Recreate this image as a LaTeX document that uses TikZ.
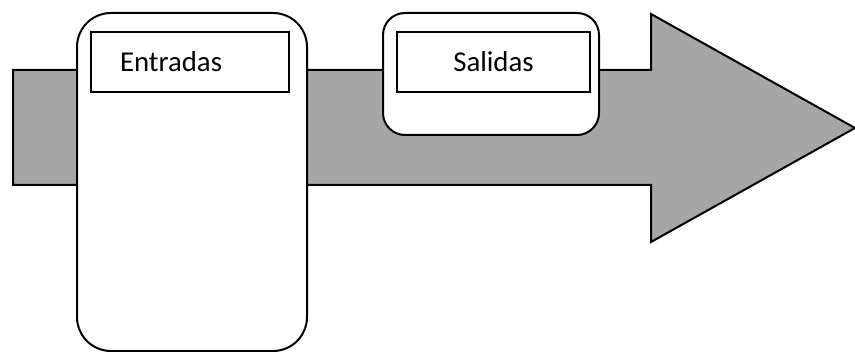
\documentclass[tikz,border=0pt]{standalone}
\usepackage{fontspec}
\setmainfont{Carlito}
\usepackage{tikz}
\usetikzlibrary{positioning}
\definecolor{ArrowGray}{RGB}{166,166,166}

\begin{document}
\begin{tikzpicture}[x=0.5pt, y=-0.5pt, line width=1pt]
        \tikzstyle{stage} = [rectangle, draw=black, fill=white, inner sep=0pt]
        \tikzstyle{label} = [rectangle, draw=black, fill=white, inner sep=0pt,
          minimum width=99pt, minimum height=30pt, font=\fontsize{14.4}{17}\selectfont]

        \useasboundingbox (0,0) rectangle (855,352);

        % arrow
        \draw[fill=ArrowGray] (13,70) -- (651,70) -- (651,14) -- (855,128)
          -- (651,242) -- (651,185) -- (13,185) -- cycle;

        % boxes
        \node[stage, rounded corners=17pt, minimum width=115pt, minimum height=169pt]
          (entradasBox) at (192,182) {};
        \node[stage, rounded corners=11pt, minimum width=108pt, minimum height=61pt]
          (salidasBox) at (491,74) {};

        \node[label, text width=70pt, align=left, inner xsep=14.5pt, minimum width=0pt]
          (entradas) at (190,62) {Entradas};
        \node[label, minimum width=96.5pt] (salidas) at (493.5,62) {Salidas};
      \end{tikzpicture}
\end{document}
